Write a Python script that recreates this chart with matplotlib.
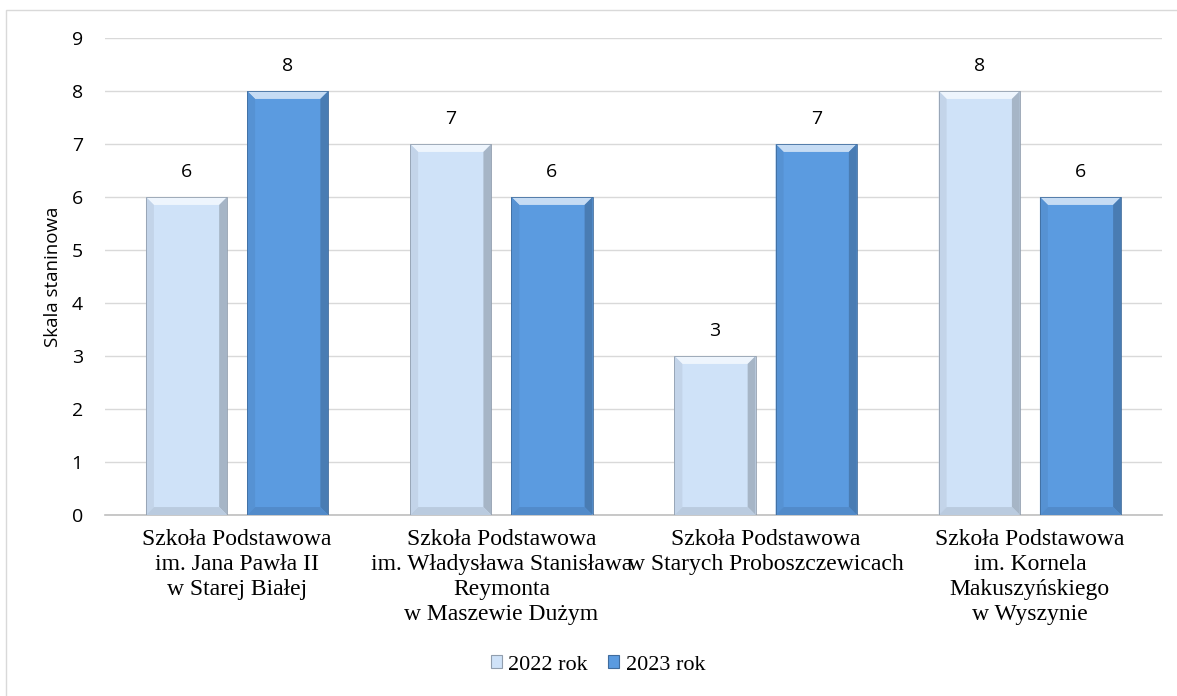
import numpy as np
import matplotlib.pyplot as plt
from matplotlib.patches import Polygon, Rectangle

schools = ["Szkoła Podstawowa\nim. Jana Pawła II\nw Starej Białej",
           "Szkoła Podstawowa\nim. Władysława Stanisława\nReymonta\nw Maszewie Dużym",
           "Szkoła Podstawowa\nw Starych Proboszczewicach",
           "Szkoła Podstawowa\nim. Kornela\nMakuszyńskiego\nw Wyszynie"]
rok_2022 = [6, 7, 3, 8]
rok_2023 = [8, 6, 7, 6]
series_names = ["2022 rok", "2023 rok"]

c_light = "#cfe2f8"
c_dark = "#5b9be0"


def shade(col, f):
    c = np.array(plt.matplotlib.colors.to_rgb(col))
    if f > 0:
        c = c + (1 - c) * f
    else:
        c = c * (1 + f)
    return tuple(np.clip(c, 0, 1))


def bevel(ax, bar, col, bx, by):
    x0, y0 = bar.get_x(), bar.get_y()
    w, h = bar.get_width(), bar.get_height()
    x1, y1 = x0 + w, y0 + h
    # top, left, right, bottom faces
    ax.add_patch(Polygon([(x0, y1), (x1, y1), (x1 - bx, y1 - by), (x0 + bx, y1 - by)],
                         color=shade(col, 0.65), lw=0, zorder=3))
    ax.add_patch(Polygon([(x0, y0), (x0, y1), (x0 + bx, y1 - by), (x0 + bx, y0 + by)],
                         color=shade(col, -0.06), lw=0, zorder=3))
    ax.add_patch(Polygon([(x1, y0), (x1, y1), (x1 - bx, y1 - by), (x1 - bx, y0 + by)],
                         color=shade(col, -0.2), lw=0, zorder=3))
    ax.add_patch(Polygon([(x0, y0), (x1, y0), (x1 - bx, y0 + by), (x0 + bx, y0 + by)],
                         color=shade(col, -0.1), lw=0, zorder=3))
    ax.add_patch(Rectangle((x0, y0), w, h, fill=False, ec=shade(col, -0.3), lw=0.6, zorder=4))


fig = plt.figure(figsize=(11.77, 6.96), dpi=100)
ax = fig.add_axes([105 / 1177, 1 - 515 / 696, (1162 - 105) / 1177, (515 - 38) / 696])

x = np.arange(len(schools))
w = 0.307
gap = 0.076
b1 = ax.bar(x - (w + gap) / 2, rok_2022, w, color=c_light, zorder=2, label=series_names[0])
b2 = ax.bar(x + (w + gap) / 2, rok_2023, w, color=c_dark, zorder=2, label=series_names[1])

for bars, col in [(b1, c_light), (b2, c_dark)]:
    for b in bars:
        bevel(ax, b, col, 0.03, 0.15)
        ax.text(b.get_x() + b.get_width() / 2, b.get_height() + 0.47, str(int(b.get_height())),
                ha="center", va="center", fontsize=14, family="Open Sans", color="#000000")

ax.set_xlim(-0.5, 3.5)
ax.set_ylim(0, 9)
ax.set_yticks(range(0, 10))
ax.yaxis.grid(True, color="#d9d9d9", lw=1, zorder=0)
ax.set_axisbelow(True)
for s in ["top", "right", "left"]:
    ax.spines[s].set_visible(False)
ax.spines["bottom"].set_color("#bfbfbf")
ax.spines["bottom"].set_linewidth(1.2)
ax.tick_params(axis="y", length=0, pad=16, labelsize=14)
ax.tick_params(axis="x", length=0, pad=10)
for t in ax.get_yticklabels():
    t.set_family("Open Sans")
ax.set_xticks(x)
ax.set_xticklabels(schools, family="Liberation Serif", fontsize=17, linespacing=1.26)
ax.set_ylabel("Skala staninowa", family="Open Sans", fontsize=13.5, labelpad=7)

leg = ax.legend(loc="center", bbox_to_anchor=((598 - 105) / 1057, -(665 - 515) / (515 - 38)),
                ncol=2, frameon=False,
                prop={"family": "Liberation Serif", "size": 16}, handlelength=0.5,
                handleheight=0.5, handletextpad=0.3, columnspacing=0.9)
for hnd, col in zip(leg.legend_handles, [c_light, c_dark]):
    hnd.set_edgecolor(shade(col, -0.3))
    hnd.set_linewidth(0.8)

fig.patches.append(Rectangle((6 / 1177, -0.05), 1.2, 1.05 - 10 / 696, transform=fig.transFigure,
                             fill=False, ec="#d9d9d9", lw=1))

fig.savefig("out.png", dpi=100)
